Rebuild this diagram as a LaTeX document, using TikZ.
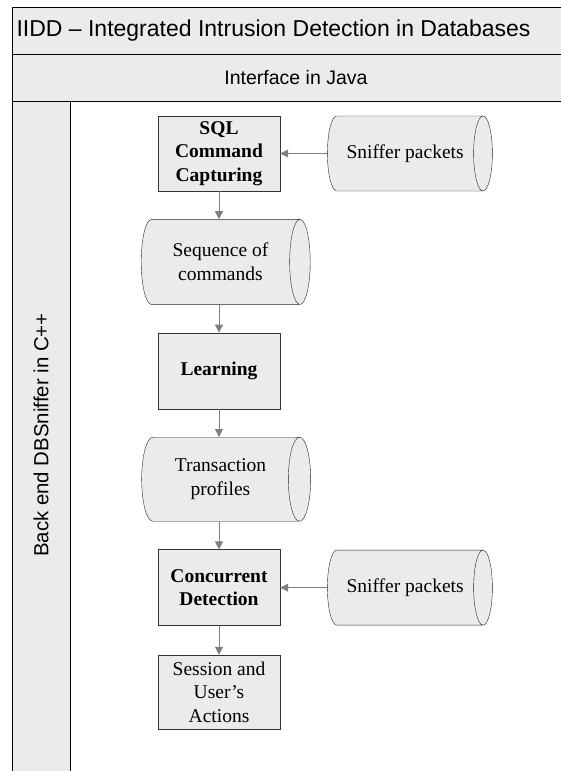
\documentclass[tikz,border=0pt]{standalone}
\usepackage{fontspec}
\setmainfont{Liberation Serif}
\setsansfont{Liberation Sans}
\usetikzlibrary{positioning,shapes.geometric,arrows.meta}
\definecolor{panel}{HTML}{EBEBEB}
\definecolor{linkgray}{HTML}{7F7F7F}

\begin{document}
\begin{tikzpicture}[x=1pt,y=-1pt,
  proc/.style={draw=black!80, fill=panel, align=center, inner sep=0pt,
    minimum width=122pt, font=\fontsize{19.5}{23.5}\selectfont\bfseries},
  outbox/.style={proc, font=\fontsize{19.5}{23.5}\selectfont},
  store/.style={cylinder, draw=black!85, fill=panel, align=center, inner sep=0pt,
    aspect=1.05, font=\fontsize{19.5}{23.5}\selectfont},
  frame/.style={draw=black, line width=0.9pt, fill=panel},
  arr/.style={-{Triangle[length=8pt,width=8pt]}, draw=linkgray, fill=linkgray, line width=0.8pt}
]
\useasboundingbox (0,0) rectangle (560,771);
\draw[frame] (12,7.3) rectangle (600,54);
\draw[frame] (12,54) rectangle (600,101.7);
\draw[frame] (12,101.7) rectangle (70.5,800);
\node[font=\sffamily\fontsize{23}{27}\selectfont, anchor=west] (title) at (13,30.5) {IIDD -- Integrated Intrusion Detection in Databases};
\node[font=\sffamily\fontsize{19.5}{23}\selectfont] (iface) at (296,78) {Interface in Java};
\node[font=\sffamily\fontsize{20.4}{24}\selectfont, rotate=90] (backend) at (41,435) {Back end DBSniffer in C++};

\node[proc, minimum height=75pt] (sql) at (219,153.5) {SQL\\ Command\\ Capturing};
\node[store, minimum height=165pt, minimum width=75pt, right=47pt of sql] (sniffA) {Sniffer packets};
\node[store, aspect=0.55, minimum height=169pt, minimum width=85pt, below=28pt of sql, xshift=1.5pt] (seq) {Sequence of\\ commands};
\node[proc, minimum height=76pt, below=28pt of seq, xshift=-1.5pt] (learn) {Learning};
\node[store, aspect=0.55, minimum height=169pt, minimum width=84pt, below=28pt of learn, xshift=1.5pt] (trans) {Transaction\\ profiles};
\node[proc, minimum height=76pt, below=28pt of trans, xshift=-1.5pt] (conc) {Concurrent\\ Detection};
\node[store, minimum height=165pt, minimum width=75pt, right=47pt of conc] (sniffB) {Sniffer packets};
\node[outbox, minimum height=74pt, below=29pt of conc] (sess) {Session and\\ User's\\ Actions};

\draw[arr] (sniffA) -- (sql);
\draw[arr] (sql.south) -- (sql.south |- seq.north);
\draw[arr] (learn.north |- seq.south) -- (learn.north);
\draw[arr] (learn.south) -- (learn.south |- trans.north);
\draw[arr] (conc.north |- trans.south) -- (conc.north);
\draw[arr] (sniffB) -- (conc);
\draw[arr] (conc) -- (sess);
\end{tikzpicture}
\end{document}
